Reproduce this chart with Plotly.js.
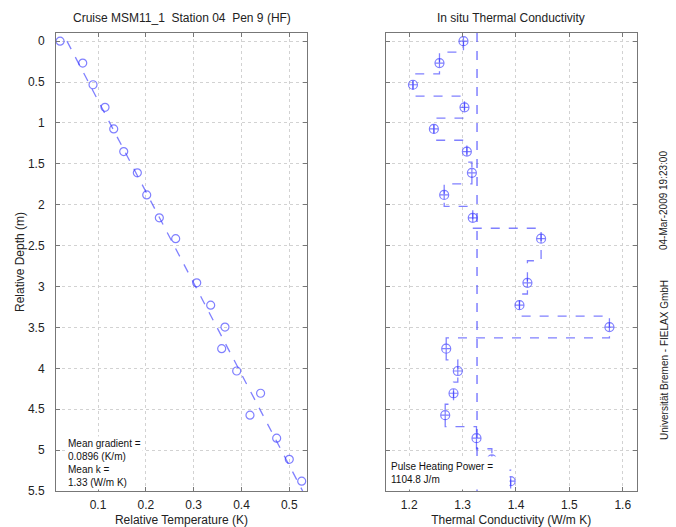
<!DOCTYPE html>
<html>
<head>
<meta charset="utf-8">
<script src="https://cdn.plot.ly/plotly-3.0.1.min.js"></script>
<style>html,body{margin:0;padding:0;background:#fff}#chart{width:676px;height:527px}</style>
</head>
<body>
<div id="chart"></div>
<script>
// Temperature profile (left panel)
const depth = [0.0, 0.268, 0.533, 0.809, 1.073, 1.35, 1.61, 1.88, 2.16, 2.415, 2.955, 3.228, 3.496, 3.76, 4.033, 4.305, 4.573, 4.854, 5.113, 5.38];
const relTemp = [0.0206, 0.068, 0.0895, 0.1146, 0.1328, 0.1537, 0.1822, 0.2018, 0.2282, 0.2624, 0.3064, 0.3356, 0.3655, 0.3586, 0.390, 0.440, 0.4178, 0.4736, 0.500, 0.526];
// Linear fit line
const fitDepth = [0.0, 5.5];
const fitTemp = [0.035, 0.528];
// Thermal conductivity (right panel)
const conductivity = [1.3016, 1.2567, 1.207, 1.3035, 1.2462, 1.308, 1.3174, 1.2655, 1.319, 1.447, 1.4214, 1.4065, 1.575, 1.2693, 1.291, 1.283, 1.2674, 1.326, 1.3548, 1.39];
const meanK = 1.327;
const meanKDepth = [-0.1, 5.5];
// Tick labels
const depthTicks = [0, 0.5, 1, 1.5, 2, 2.5, 3, 3.5, 4, 4.5, 5, 5.5];
const tempTicks = [0.1, 0.2, 0.3, 0.4, 0.5];
const kTicks = [1.2, 1.3, 1.4, 1.5, 1.6];

// Build step profile from data (each value held between depth midpoints)
const stepX = [], stepY = [];
for (let i = 0; i < depth.length; i++) {
  const top = i === 0 ? depth[0] : (depth[i - 1] + depth[i]) / 2;
  const bot = i === depth.length - 1 ? depth[i] + (depth[i] - depth[i - 1]) / 2 : (depth[i] + depth[i + 1]) / 2;
  stepX.push(conductivity[i], conductivity[i]);
  stepY.push(top, bot);
}

const blue = 'rgba(50,50,255,0.62)';
const font = {family: 'Liberation Sans, Arial, sans-serif', size: 12, color: '#222'};

const traces = [
  {x: fitTemp, y: fitDepth, type: 'scatter', mode: 'lines', line: {color: blue, width: 1.3, dash: 'dash'}, xaxis: 'x', yaxis: 'y', hoverinfo: 'skip'},
  {x: relTemp, y: depth, type: 'scatter', mode: 'markers', marker: {symbol: 'circle-open', size: 8, color: blue, line: {width: 1.2, color: blue}}, xaxis: 'x', yaxis: 'y'},
  {x: stepX, y: stepY, type: 'scatter', mode: 'lines', line: {color: blue, width: 1.3, dash: 'dash'}, xaxis: 'x2', yaxis: 'y2', hoverinfo: 'skip'},
  {x: [meanK, meanK], y: meanKDepth, type: 'scatter', mode: 'lines', line: {color: blue, width: 1.5, dash: 'dash'}, xaxis: 'x2', yaxis: 'y2'},
  {x: conductivity, y: depth, type: 'scatter', mode: 'markers', marker: {symbol: 'circle-cross-open', size: 9, color: blue, line: {width: 1.2, color: blue}}, xaxis: 'x2', yaxis: 'y2'}
];

const axisCommon = {
  showline: true, mirror: 'ticks', linecolor: '#777', linewidth: 1,
  ticks: 'inside', ticklen: 4, tickcolor: '#777',
  showgrid: true, gridcolor: '#d2d2d2', griddash: 'dot', gridwidth: 1,
  zeroline: false, tickfont: font
};

const layout = {
  width: 676, height: 527,
  margin: {l: 0, r: 0, t: 0, b: 0},
  paper_bgcolor: '#fff', plot_bgcolor: '#fff',
  showlegend: false,
  font: font,
  xaxis: Object.assign({}, axisCommon, {domain: [0.0828, 0.4541], range: [0.012, 0.537], tickvals: tempTicks, ticktext: tempTicks.map(String),
    ticklabelstandoff: 3, title: {text: 'Relative Temperature (K)', font: font, standoff: 4}, anchor: 'y'}),
  yaxis: Object.assign({}, axisCommon, {domain: [0.0683, 0.9374], range: [5.5, -0.1], tickvals: depthTicks, ticktext: depthTicks.map(String),
    ticklabelstandoff: 8, title: {text: 'Relative Depth (m)', font: font, standoff: 0}, anchor: 'x'}),
  xaxis2: Object.assign({}, axisCommon, {domain: [0.5706, 0.9418], range: [1.156, 1.626], tickvals: kTicks, ticktext: kTicks.map(String),
    ticklabelstandoff: 3, title: {text: 'Thermal Conductivity (W/m K)', font: font, standoff: 4}, anchor: 'y2'}),
  yaxis2: Object.assign({}, axisCommon, {domain: [0.0683, 0.9374], range: [5.5, -0.1], tickvals: depthTicks, showticklabels: false, anchor: 'x2'}),
  annotations: [
    {text: 'Cruise MSM11_1\u00a0\u00a0Station 04\u00a0\u00a0Pen 9 (HF)', xref: 'paper', yref: 'paper', x: 0.2685, y: 1 - 18 / 527, xanchor: 'center', yanchor: 'middle', showarrow: false, font: font},
    {text: 'In situ Thermal Conductivity', xref: 'paper', yref: 'paper', x: 0.7562, y: 1 - 18 / 527, xanchor: 'center', yanchor: 'middle', showarrow: false, font: font},
    {text: 'Mean gradient =<br>0.0896 (K/m)<br>Mean k =<br>1.33 (W/m K)', xref: 'paper', yref: 'paper', x: 66 / 676, y: 1 - 436 / 527, xanchor: 'left', yanchor: 'top', align: 'left', showarrow: false, bgcolor: '#fff', font: {family: font.family, size: 10, color: '#111'}},
    {text: 'Pulse Heating Power =<br>1104.8 J/m', xref: 'paper', yref: 'paper', x: 386 / 676, y: 1 - 456 / 527, xanchor: 'left', yanchor: 'top', align: 'left', width: 114, showarrow: false, bgcolor: '#fff', borderpad: 4, font: {family: font.family, size: 10, color: '#111'}},
    {text: '04-Mar-2009 19:23:00', xref: 'paper', yref: 'paper', x: 664 / 676, y: 1 - 201 / 527, xanchor: 'center', yanchor: 'middle', textangle: -90, showarrow: false, font: {family: font.family, size: 10, color: '#222'}},
    {text: 'Universität Bremen - FIELAX GmbH', xref: 'paper', yref: 'paper', x: 664 / 676, y: 1 - 360 / 527, xanchor: 'center', yanchor: 'middle', textangle: -90, showarrow: false, font: {family: font.family, size: 10, color: '#222'}}
  ]
};

Plotly.newPlot('chart', traces, layout, {displayModeBar: false, staticPlot: true});
</script>
</body>
</html>
